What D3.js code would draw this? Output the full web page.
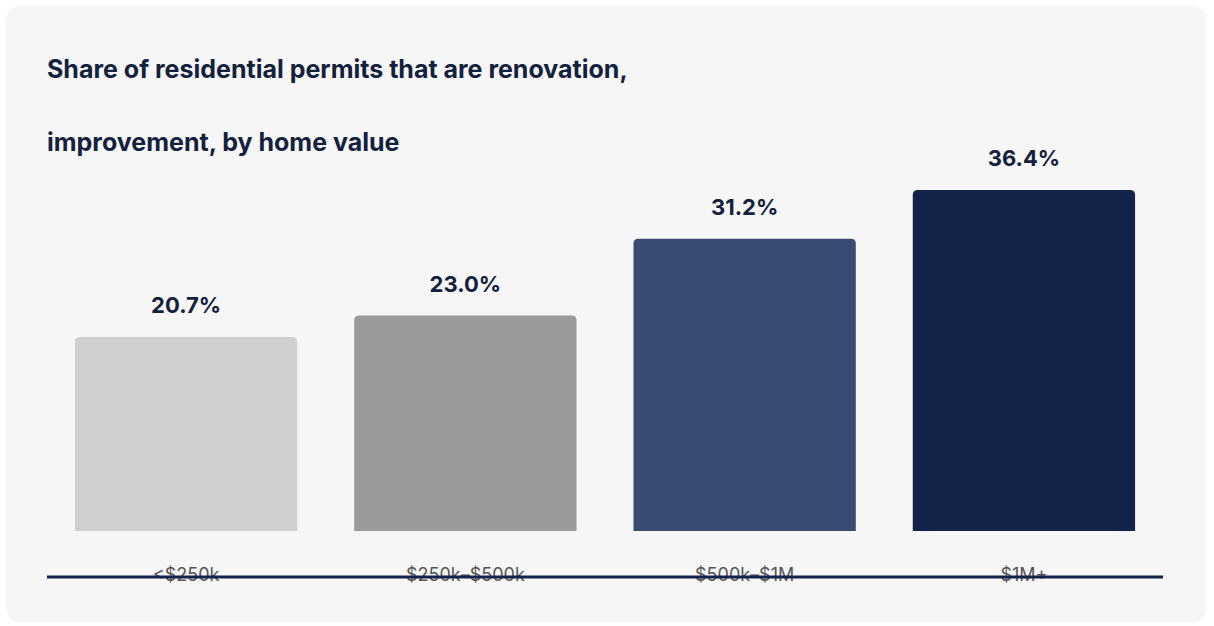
<!DOCTYPE html>
<html>
<head>
<meta charset="utf-8">
<script src="https://cdn.jsdelivr.net/npm/d3@7"></script>
<style>
  body { margin: 0; background: #fff; font-family: Inter, "Noto Sans", sans-serif; }
</style>
</head>
<body>
<div id="chart-area"></div>
<script>
// data
const categories = ["<$250k", "$250k\u2013$500k", "$500k\u2013$1M", "$1M+"];
const shares = [20.7, 23.0, 31.2, 36.4];
const colors = ["#cfcfcf", "#9a9a9a", "#394b72", "#14234a"];
const titleLines = ["Share of residential permits that are renovation,", "improvement, by home value"];

const W = 1214, H = 626;
const svg = d3.select("#chart-area").append("svg")
    .attr("width", W).attr("height", H);

// card
svg.append("rect")
    .attr("x", 6).attr("y", 6).attr("width", 1200).attr("height", 616)
    .attr("rx", 14).attr("fill", "#f6f6f6");

// title
svg.selectAll(".title").data(titleLines).enter().append("text")
    .attr("x", 47).attr("y", (d, i) => 78 + i * 73)
    .attr("font-size", "25px").attr("font-weight", 700)
    .attr("fill", "#14213d")
    .text(d => d);

const baseY = 531;
const x = d3.scaleBand()
    .domain(categories)
    .range([47, 1163])
    .paddingInner(0.204)
    .paddingOuter(0.1);

const y = d3.scaleLinear()
    .domain([0, 36.4])
    .range([baseY, 190]);

// bars
svg.selectAll(".bar").data(shares).enter().append("path")
    .attr("fill", (d, i) => colors[i])
    .attr("d", (d, i) => {
        const x0 = x(categories[i]), w = x.bandwidth(), y0 = y(d), r = 5;
        return `M${x0},${baseY}V${y0 + r}Q${x0},${y0} ${x0 + r},${y0}H${x0 + w - r}Q${x0 + w},${y0} ${x0 + w},${y0 + r}V${baseY}Z`;
    });

// value labels
svg.selectAll(".val").data(shares).enter().append("text")
    .attr("x", (d, i) => x(categories[i]) + x.bandwidth() / 2)
    .attr("y", d => y(d) - 24)
    .attr("text-anchor", "middle")
    .attr("font-size", "22px").attr("font-weight", 700)
    .attr("fill", "#14213d")
    .text(d => d.toFixed(1) + "%");

// x axis
const xAxis = svg.append("g")
    .attr("transform", "translate(0," + 577 + ")")
    .call(d3.axisBottom(x).tickSize(0).tickPadding(0));
xAxis.select(".domain").remove();
xAxis.selectAll("text")
    .attr("y", -9)
    .attr("font-size", "18px")
    .attr("font-family", "Inter, 'Noto Sans', sans-serif")
    .attr("fill", "#555");

svg.append("line")
    .attr("x1", 47).attr("x2", 1163)
    .attr("y1", 577).attr("y2", 577)
    .attr("stroke", "#14234a").attr("stroke-width", 3);
</script>
</body>
</html>
